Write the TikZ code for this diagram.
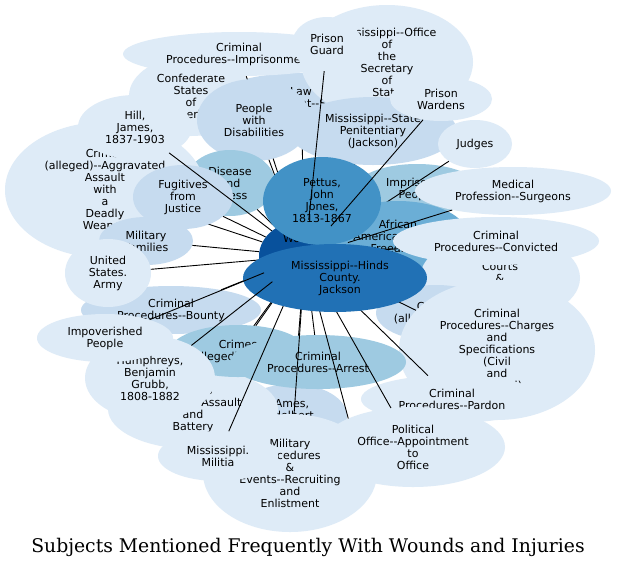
\documentclass[tikz,border=0pt]{standalone}
\usepackage{fontspec}
\setsansfont{DejaVu Sans}
\newfontfamily\titlefont{DejaVu Serif}
\usetikzlibrary{shapes.geometric}
\definecolor{bluA}{HTML}{DEEBF7}
\definecolor{bluB}{HTML}{C6DBEF}
\definecolor{bluC}{HTML}{9ECAE1}
\definecolor{bluD}{HTML}{6BAED6}
\definecolor{bluE}{HTML}{4292C6}
\definecolor{bluF}{HTML}{2171B5}
\definecolor{bluG}{HTML}{08519C}
\begin{document}
\begin{tikzpicture}[x=1pt,y=-1pt]
    \tikzset{sub/.style={ellipse, inner sep=0pt, align=center, font=\sffamily\fontsize{11}{12}\selectfont},
             sz/.style 2 args={minimum width=#1, minimum height=#2},
             ln/.style={line width=0.9pt}}
    \useasboundingbox (0,0) rectangle (617,568);
    \fill[white] (0,0) rectangle (617,568);

    % ---- centre ----
    \node[sub, fill=bluG, sz={92}{72}] (wi) at (305,256) {Wounds\\and\\Injuries\\\mbox{}};

    % ---- upper half ----
    \node[sub, fill=bluB, sz={164}{50}] (law) at (301,98) {Law\\Enforcement-{}-Sheriffs};
    \draw[ln] (wi) -- (law);
    \node[sub, fill=bluA, sz={124}{80}] (csa) at (191,96) {Confederate\\States\\of\\America};
    \draw[ln] (wi) -- (csa);
    \node[sub, fill=bluA, sz={232}{44}] (jail) at (239,54) {Criminal\\Procedures-{}-Imprisonment};
    \draw[ln] (wi) -- (jail);
    \node[sub, fill=bluB, sz={114}{82}] (disab) at (254,120) {People\\with\\Disabilities};
    \draw[ln] (wi) -- (disab);
    \node[sub, fill=bluA, sz={172}{114}] (secst) at (387,62) {Mississippi-{}-Office\\of\\the\\Secretary\\of\\State};
    \draw[ln] (wi) -- (secst);
    \node[sub, fill=bluB, sz={168}{68}] (pen) at (373,131) {Mississippi-{}-State\\Penitentiary\\(Jackson)};
    \draw[ln] (wi) -- (pen);

    % ---- left side ----
    \node[sub, fill=bluC, sz={90}{66}] (ill) at (230,183) {Disease\\and\\Illness};
    \draw[ln] (wi) -- (ill);
    \node[sub, fill=bluA, sz={200}{136}] (aggr) at (105,190) {Crimes\\(alleged)-{}-Aggravated\\Assault\\with\\a\\Deadly\\Weapon};
    \draw[ln] (wi) -- (aggr);
    \node[sub, fill=bluB, sz={100}{64}] (fug) at (183,197) {Fugitives\\from\\Justice};
    \draw[ln] (wi) -- (fug);
    \node[sub, fill=bluB, sz={94}{48}] (fam) at (146,241) {Military\\Families};
    \draw[ln] (wi) -- (fam);
    \node[sub, fill=bluB, sz={180}{48}] (bounty) at (171,310) {Criminal\\Procedures-{}-Bounty};
    \draw[ln] (wi) -- (bounty);
    \node[sub, fill=bluA, sz={86}{68}] (army) at (108,273) {United\\States.\\Army};
    \draw[ln] (wi) -- (army);
    \node[sub, fill=bluA, sz={114}{64}] (hill) at (135,127) {Hill,\\James,\\1837-1903};
    \draw[ln] (wi) -- (hill);

    % ---- right side ----
    \node[sub, fill=bluC, sz={124}{50}] (inmates) at (417,189) {Imprisoned\\People};
    \draw[ln] (wi) -- (inmates);
    \node[sub, fill=bluA, sz={74}{48}] (judges) at (475,144) {Judges};
    \draw[ln] (wi) -- (judges);
    \node[sub, fill=bluD, sz={140}{70}] (afr) at (398,236) {African\\Americans-{}-Free\\Freedmen};
    \node[sub, fill=bluA, sz={196}{48}] (surg) at (513,191) {Medical\\Profession-{}-Surgeons};
    \draw[ln] (wi) -- (surg);
    \node[sub, fill=bluA, sz={160}{90}] (courts) at (500,278) {Courts\\\&\\Trials};
    \draw[ln] (wi) -- (courts);
    \node[sub, fill=bluA, sz={206}{48}] (conv) at (496,241) {Criminal\\Procedures-{}-Convicted};
    \draw[ln] (wi) -- (conv);
    \node[sub, fill=bluB, sz={120}{56}] (theft) at (436,313) {Crimes\\(alleged)-{}-Theft};
    \draw[ln] (wi) -- (theft);
    \node[sub, fill=bluA, sz={196}{140}] (charges) at (497,350) {Criminal\\Procedures-{}-Charges\\and\\Specifications\\(Civil\\and\\Criminal)};
    \draw[ln] (wi) -- (charges);

    % ---- lower half ----
    \node[sub, fill=bluB, sz={110}{64}] (ames) at (292,416) {Ames,\\Adelbert,\\1835-1933};
    \draw[ln] (wi) -- (ames);
    \node[sub, fill=bluA, sz={170}{80}] (batt) at (193,409) {Crimes\\(alleged)-{}-Assault\\and\\Battery};
    \draw[ln] (wi) -- (batt);
    \node[sub, fill=bluC, sz={136}{52}] (murder) at (238,351) {Crimes\\(alleged)-{}-Murder};
    \draw[ln] (wi) -- (murder);
    \node[sub, fill=bluC, sz={176}{54}] (arrest) at (318,362) {Criminal\\Procedures-{}-Arrest};
    \draw[ln] (wi) -- (arrest);
    \node[sub, fill=bluA, sz={174}{118}] (recruit) at (290,473) {Military\\Procedures\\\&\\Events-{}-Recruiting\\and\\Enlistment};
    \draw[ln] (wi) -- (recruit);
    \node[sub, fill=bluA, sz={120}{50}] (militia) at (218,456) {Mississippi.\\Militia};
    \draw[ln] (wi) -- (militia);
    \coordinate (hidden) at (362,470);
    \draw[ln] (wi) -- (hidden);
    \node[sub, fill=bluA, sz={182}{48}] (pardon) at (452,399) {Criminal\\Procedures-{}-Pardon};
    \draw[ln] (wi) -- (pardon);
    \node[sub, fill=bluA, sz={184}{80}] (office) at (413,447) {Political\\Office-{}-Appointment\\to\\Office};
    \draw[ln] (wi) -- (office);

    % ---- big subjects on top ----
    \node[sub, fill=bluE, sz={118}{88}] (pettus) at (322,201) {Pettus,\\John\\Jones,\\1813-1867};
    \node[sub, fill=bluF, sz={184}{68}] (hinds) at (335,278)
        {\hspace*{10pt}Mississippi-{}-Hinds\\\hspace*{10pt}County.\\\hspace*{10pt}Jackson};
    \node[sub, fill=bluA, sz={130}{84}] (humph) at (150,378) {Humphreys,\\Benjamin\\Grubb,\\1808-1882};
    \draw[ln] (wi) -- (humph);
    \node[sub, fill=bluA, sz={136}{48}] (poor) at (105,338) {Impoverished\\People};
    \draw[ln] (wi) -- (poor);
    \node[sub, fill=bluA, sz={70}{54}] (guard) at (327,44) {Prison\\Guard};
    \draw[ln] (wi) -- (guard);
    \node[sub, fill=bluA, sz={102}{44}] (wardens) at (441,99) {Prison\\Wardens};
    \draw[ln] (wi) -- (wardens);

    \node[font=\titlefont\fontsize{18.8}{22}\selectfont] (title) at (308,547) {Subjects Mentioned Frequently With Wounds and Injuries};
\end{tikzpicture}
\end{document}
